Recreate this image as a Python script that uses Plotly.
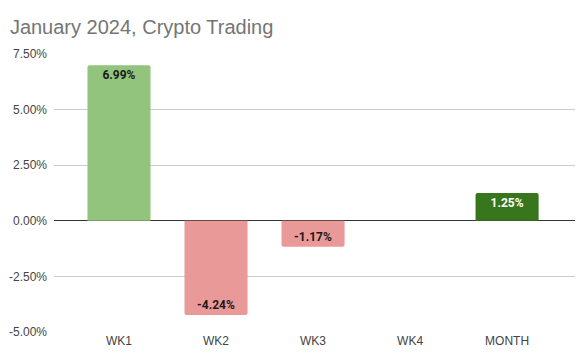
import plotly.graph_objects as go

categories = ["WK1", "WK2", "WK3", "WK4", "MONTH"]
values = [6.99, -4.24, -1.17, None, 1.25]
labels = ["6.99%", "-4.24%", "-1.17%", "", "1.25%"]
bar_colors = ["#93c47d", "#ea9999", "#ea9999", "#ea9999", "#38761d"]
label_colors = ["#1a1a1a", "#1a1a1a", "#1a1a1a", "#1a1a1a", "#ffffff"]
tick_vals = [-5, -2.5, 0, 2.5, 5, 7.5]
tick_text = ["-5.00%", "-2.50%", "0.00%", "2.50%", "5.00%", "7.50%"]

fig = go.Figure(go.Bar(
    x=categories, y=values, text=labels,
    marker=dict(color=bar_colors, line=dict(width=0)),
    width=0.65,
    textposition="inside", insidetextanchor="end",
    textfont=dict(family="Roboto", size=12, color=label_colors, weight="bold"),
    textangle=0, cliponaxis=False,
))
fig.update_layout(
    width=581, height=354,
    margin=dict(l=54, r=6, t=54, b=22),
    paper_bgcolor="white", plot_bgcolor="white",
    barcornerradius=2,
    title=dict(text="January 2024, Crypto Trading", x=0.017, xanchor="left",
               y=0.925, yanchor="middle",
               font=dict(family="Liberation Sans", size=20, color="#757575")),
    font=dict(family="Liberation Sans", size=12, color="#444444"),
    showlegend=False,
)
fig.update_xaxes(range=[-0.67, 4.70], showgrid=False, showline=False, ticks="",
                 tickfont=dict(size=12, color="#444444"), automargin=False)
fig.update_yaxes(range=[-5, 7.5], tickvals=tick_vals, ticktext=tick_text,
                 showgrid=True, gridcolor="#cccccc", gridwidth=1,
                 zeroline=True, zerolinecolor="#333333", zerolinewidth=1,
                 tickfont=dict(size=12, color="#444444"), ticks="", ticklabelstandoff=6)
fig.write_html("out.html")
